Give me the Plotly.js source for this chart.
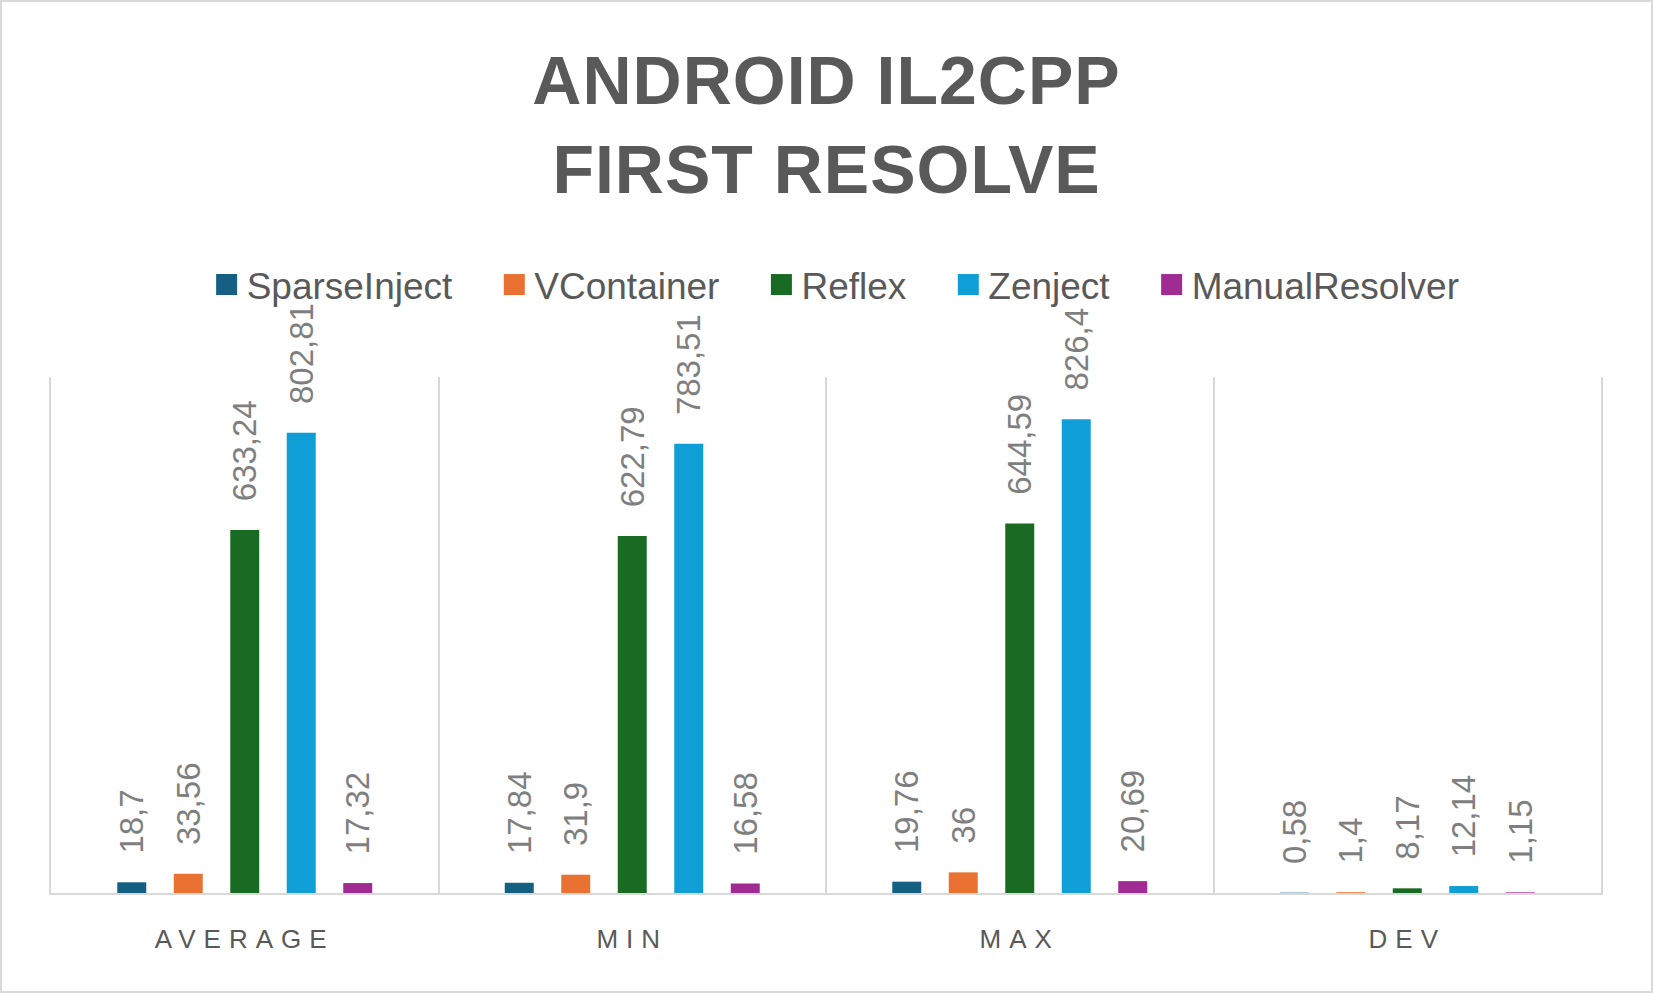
<!DOCTYPE html>
<html>
<head>
<meta charset="utf-8">
<script src="https://cdn.plot.ly/plotly-3.0.1.min.js"></script>
<style>
  html, body { margin: 0; padding: 0; background: #ffffff; }
  #wrap { position: relative; width: 1653px; height: 993px; }
  #chart { position: absolute; left: 0; top: 0; width: 1653px; height: 993px; }
  #frame { position: absolute; left: 0; top: 0; width: 1653px; height: 993px; box-sizing: border-box; border: 2px solid #d9d9d9; pointer-events: none; }
  .xtick text { letter-spacing: 8px; }
  .gtitle { letter-spacing: 1px; }
</style>
</head>
<body>
<div id="wrap">
  <div id="chart"></div>
  <div id="frame"></div>
</div>
<script>
// ---- data ----
const categories = ['AVERAGE', 'MIN', 'MAX', 'DEV'];
const seriesNames = ['SparseInject', 'VContainer', 'Reflex', 'Zenject', 'ManualResolver'];
const sparseInject   = [18.7, 17.84, 19.76, 0.58];
const vContainer     = [33.56, 31.9, 36, 1.4];
const reflex         = [633.24, 622.79, 644.59, 8.17];
const zenject        = [802.81, 783.51, 826.4, 12.14];
const manualResolver = [17.32, 16.58, 20.69, 1.15];
const seriesColors = ['#156082', '#E97132', '#196B24', '#0F9ED5', '#A02B93'];

const seriesValues = [sparseInject, vContainer, reflex, zenject, manualResolver];

const fmt = v => '\u2002\u00a0' + String(v).replace('.', ',');

const traces = seriesValues.map((vals, i) => ({
  type: 'bar',
  name: seriesNames[i] + '\u2002\u2002',
  x: categories,
  y: vals,
  text: vals.map(fmt),
  textposition: 'outside',
  textangle: -90,
  constraintext: 'none',
  cliponaxis: false,
  textfont: { family: 'Liberation Sans, Arial, sans-serif', size: 33, color: '#7f7f7f' },
  marker: { color: seriesColors[i], line: { width: 0 } },
  hoverinfo: 'none'
}));

const layout = {
  width: 1653,
  height: 993,
  paper_bgcolor: '#ffffff',
  plot_bgcolor: '#ffffff',
  font: { family: 'Liberation Sans, Arial, sans-serif', color: '#595959' },
  margin: { l: 51, r: 52, t: 377, b: 100, pad: 0 },
  title: {
    text: 'ANDROID IL2CPP<br>FIRST RESOLVE',
    font: { family: 'Liberation Sans, Arial, sans-serif', size: 68, color: '#595959', weight: 'bold' },
    x: 0.5, xanchor: 'center', xref: 'container',
    y: 0.895, yanchor: 'top', yref: 'container'
  },
  barmode: 'group',
  bargap: 0.271,
  bargroupgap: 0.487,
  showlegend: true,
  legend: {
    orientation: 'h',
    xref: 'container', yref: 'container',
    x: 0.125, xanchor: 'left',
    y: 0.713, yanchor: 'middle',
    font: { size: 37, color: '#595959' },
    bgcolor: 'rgba(0,0,0,0)',
    traceorder: 'normal'
  },
  xaxis: {
    type: 'category',
    tickson: 'boundaries',
    showgrid: true,
    gridcolor: '#d9d9d9',
    gridwidth: 2,
    showline: true,
    linecolor: '#d9d9d9',
    linewidth: 2,
    ticks: '',
    ticklabelstandoff: 22,
    tickfont: { size: 26, color: '#595959' },
    fixedrange: true
  },
  yaxis: {
    range: [0, 900],
    showgrid: false,
    zeroline: false,
    showticklabels: false,
    showline: true,
    mirror: true,
    linecolor: '#d9d9d9',
    linewidth: 2,
    ticks: '',
    fixedrange: true
  }
};

Plotly.newPlot('chart', traces, layout, { displayModeBar: false, staticPlot: true }).then(gd => {
  gd.querySelectorAll('.legend .legendpoints path').forEach(p => {
    p.setAttribute('d', 'M10.5,10.5H-10.5V-10.5H10.5Z');
  });
});
</script>
</body>
</html>
